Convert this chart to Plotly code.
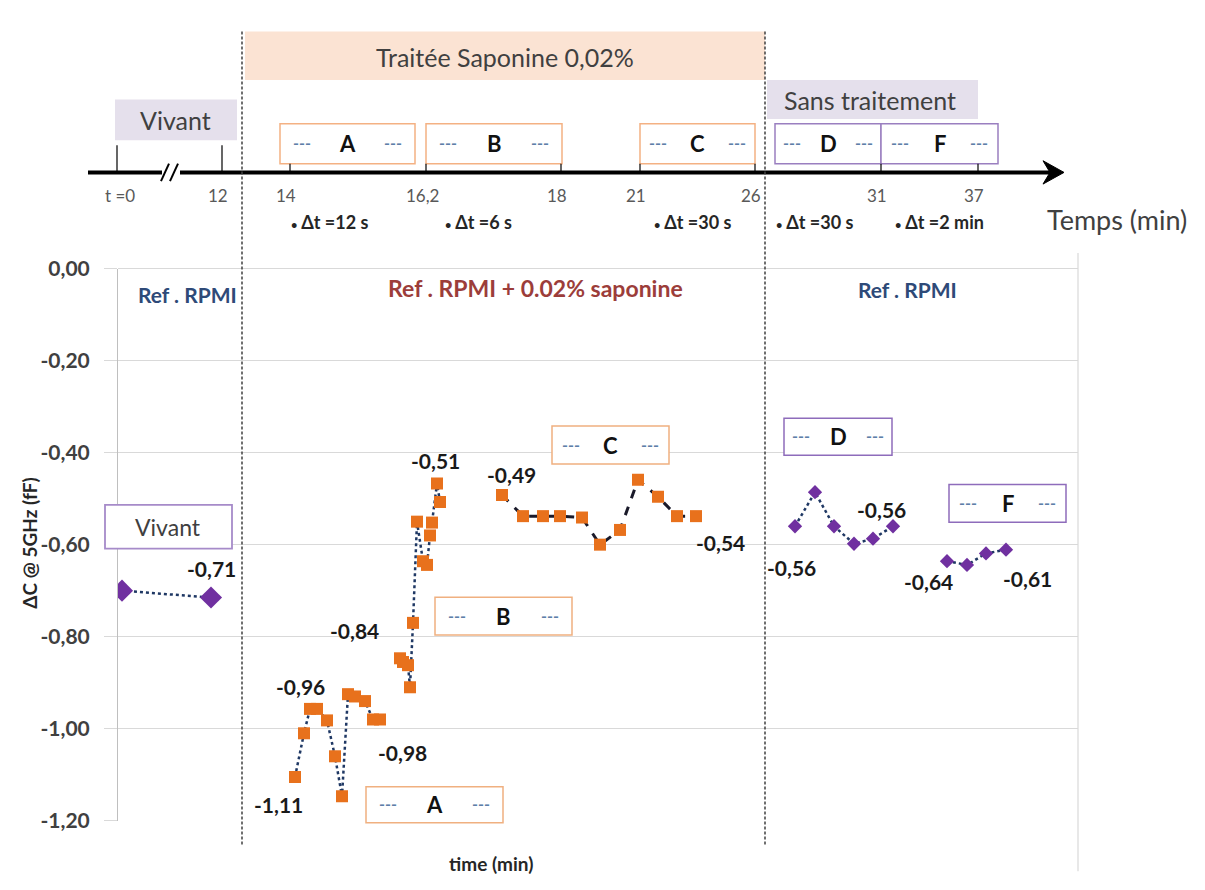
import plotly.graph_objects as go

W, H = 1205, 890

# Data: x = time on the (hidden) chart axis, y = delta C @ 5GHz (fF)
vivant_x = [0.2, 4.65]
vivant_y = [-0.70, -0.715]

a_x = [8.85, 9.3, 9.6, 9.95, 10.45, 10.85, 11.2, 11.5, 11.85, 12.35, 12.75, 13.1]
a_y = [-1.105, -1.01, -0.957, -0.957, -0.982, -1.06, -1.147, -0.925, -0.93, -0.94, -0.98, -0.98]

b_x = [14.1, 14.25, 14.5, 14.6, 14.75, 14.95, 15.25, 15.45, 15.6, 15.7, 15.95, 16.1]
b_y = [-0.847, -0.855, -0.862, -0.91, -0.77, -0.55, -0.636, -0.644, -0.58, -0.552, -0.467, -0.507]

c_x = [19.2, 20.25, 21.25, 22.1, 23.2, 24.1, 25.1, 26.0, 27.0, 27.95, 28.9]
c_y = [-0.492, -0.538, -0.538, -0.538, -0.541, -0.60, -0.568, -0.459, -0.496, -0.538, -0.538]

d_x = [33.85, 34.85, 35.8, 36.8, 37.75, 38.75]
d_y = [-0.56, -0.486, -0.56, -0.598, -0.587, -0.56]

f_x = [41.45, 42.45, 43.4, 44.4]
f_y = [-0.636, -0.644, -0.619, -0.611]

y_ticks = [0, -0.2, -0.4, -0.6, -0.8, -1.0, -1.2]
y_ticktext = ["0,00", "-0,20", "-0,40", "-0,60", "-0,80", "-1,00", "-1,20"]

timeline_labels = ["t =0", "12", "14", "16,2", "18", "21", "26", "31", "37"]
dt_labels = ["Δt =12 s", "Δt =6 s", "Δt =30 s", "Δt =30 s", "Δt =2 min"]

# layout helpers (pixel -> paper)
def px(x):
    return x / W

def py(y):
    return 1 - y / H

FONT = "Lato"
ORANGE = "#E8711C"
PURPLE = "#7030A0"
NAVY = "#1F3864"
DASHC = "#5E7FA8"

fig = go.Figure()

fig.add_trace(go.Scatter(x=vivant_x, y=vivant_y, mode="lines+markers",
                         line=dict(color=NAVY, width=2.5, dash="dot"),
                         marker=dict(symbol="diamond", size=17, color=PURPLE)))
fig.add_trace(go.Scatter(x=a_x, y=a_y, mode="lines+markers",
                         line=dict(color=NAVY, width=2.5, dash="dot"),
                         marker=dict(symbol="square", size=12, color=ORANGE)))
fig.add_trace(go.Scatter(x=b_x, y=b_y, mode="lines+markers",
                         line=dict(color=NAVY, width=2.5, dash="dot"),
                         marker=dict(symbol="square", size=12, color=ORANGE)))
fig.add_trace(go.Scatter(x=c_x, y=c_y, mode="lines+markers",
                         line=dict(color="#1a1a2a", width=3, dash="dash"),
                         marker=dict(symbol="square", size=12, color=ORANGE)))
fig.add_trace(go.Scatter(x=d_x, y=d_y, mode="lines+markers",
                         line=dict(color=NAVY, width=2.5, dash="dot"),
                         marker=dict(symbol="diamond", size=11, color=PURPLE)))
fig.add_trace(go.Scatter(x=f_x, y=f_y, mode="lines+markers",
                         line=dict(color=NAVY, width=2.5, dash="dot"),
                         marker=dict(symbol="diamond", size=11, color=PURPLE)))

# data labels attached to points
labels = [
    (vivant_x, vivant_y, 1, "-0,71", 0, 29),
    (a_x, a_y, 0, "-1,11", -17, -28),
    (a_x, a_y, 2, "-0,96", -10, 22),
    (a_x, a_y, 11, "-0,98", 22, -33),
    (b_x, b_y, 0, "-0,84", -46, 28),
    (b_x, b_y, 10, "-0,51", -2, 23),
    (c_x, c_y, 0, "-0,49", 9, 20),
    (c_x, c_y, 10, "-0,54", 24, -26),
    (d_x, d_y, 0, "-0,56", -4, -41),
    (d_x, d_y, 5, "-0,56", -12, 17),
    (f_x, f_y, 0, "-0,64", -19, -20),
    (f_x, f_y, 3, "-0,61", 21, -29),
]
for xs, ys, i, txt, dx, dy in labels:
    fig.add_annotation(x=xs[i], y=ys[i], text=txt, showarrow=False,
                       xshift=dx, yshift=dy, xanchor="center", yanchor="middle",
                       font=dict(family=FONT, size=21, color="#1a1a1a", weight="bold"))

shapes = []

def rect(x0, y0, x1, y1, fill, line=None, lw=1.5):
    shapes.append(dict(type="rect", xref="paper", yref="paper",
                       x0=px(x0), x1=px(x1), y0=py(y1), y1=py(y0),
                       fillcolor=fill, line=dict(color=line or fill, width=lw if line else 0),
                       layer="below" if not line else "above"))

def seg(x0, y0, x1, y1, color="#000", width=1, dash=None):
    shapes.append(dict(type="line", xref="paper", yref="paper",
                       x0=px(x0), x1=px(x1), y0=py(y0), y1=py(y1),
                       line=dict(color=color, width=width, dash=dash)))

def text(x, y, s, size=16, color="#404040", bold=False, **kw):
    fig.add_annotation(xref="paper", yref="paper", x=px(x), y=py(y), text=s,
                       showarrow=False, xanchor="center", yanchor="middle",
                       font=dict(family=FONT, size=size, color=color,
                                 weight="bold" if bold else "normal"), **kw)

def tag_box(x0, y0, x1, y1, letter, border):
    rect(x0, y0, x1, y1, "white", border, 1.5)
    cy = (y0 + y1) / 2
    w = x1 - x0
    text(x0 + 0.16 * w, cy - 1, "---", size=16, color=DASHC, bold=True)
    text(x0 + 0.84 * w, cy - 1, "---", size=16, color=DASHC, bold=True)
    text(x0 + 0.5 * w, cy, letter, size=22, color="#111", bold=True)

# ---- top timeline ----
rect(245, 18, 765, 68, "#FBE3D3")
text(505, 44, "Traitée Saponine 0,02%", size=25)
rect(115, 88, 237, 130, "#E5E0EC")
text(175, 109, "Vivant", size=25)
rect(767, 68, 978, 108, "#E5E0EC")
text(870, 89, "Sans traitement", size=25)

tag_box(280, 113, 415, 154, "A", "#F4B183")
tag_box(426, 113, 562, 154, "B", "#F4B183")
tag_box(640, 113, 755, 154, "C", "#F4B183")
tag_box(775, 113, 881, 154, "D", "#9A7FC0")
tag_box(881, 113, 998, 154, "F", "#9A7FC0")

# axis with break and arrow
seg(88, 163, 162, 163, width=4)
seg(180, 163, 1052, 163, width=4)
seg(161, 172, 169, 154, width=2)
seg(170, 172, 178, 154, width=2)
shapes.append(dict(type="path", xref="paper", yref="paper",
                   path=f"M {px(1043)} {py(151)} L {px(1064)} {py(163)} L {px(1043)} {py(175)} L {px(1050)} {py(163)} Z",
                   fillcolor="#000", line=dict(color="#000", width=1)))

tick_px = [117, 222, 290, 426, 561, 640, 755, 881, 978]
for lab, xp in zip(timeline_labels, tick_px):
    top = 135 if xp < 240 else 154
    seg(xp, top, xp, 163, width=1.2)
    text(xp + (3 if lab == "t =0" else -4), 187, lab, size=17, color="#595959")

dt_px = [330, 478, 693, 815, 939]
for lab, xp in zip(dt_labels, dt_px):
    text(xp, 214, "<span style='font-size:11px'>•</span> " + lab,
         size=18, color="#262626", bold=True)

text(1117, 211, "Temps (min)", size=27, color="#404040")

# ---- chart decorations ----
for xp in (242, 765):
    seg(xp, 18, xp, 855, color="#404040", width=1.5, dash="3px,2px")
seg(1078, 246, 1078, 882, color="#D9D9D9", width=1.2)

rect(105, 505, 232, 550, "white", "#A68BC9", 1.8)
text(168, 528, "Vivant", size=23, color="#404040")
tag_box(366, 795, 503, 832, "A", "#F0B080")
tag_box(435, 600, 572, 639, "B", "#F0B080")
tag_box(552, 424, 669, 463, "C", "#F0B080")
tag_box(784, 416, 892, 454, "D", "#8E6CBB")
tag_box(949, 484, 1066, 523, "F", "#8E6CBB")

text(187, 289, "Ref . RPMI", size=21, color="#2E4A78", bold=True)
text(535, 282, "Ref . RPMI + 0.02% saponine", size=23, color="#9C3D3A", bold=True)
text(907, 283, "Ref . RPMI", size=21, color="#2E4A78", bold=True)
text(491, 874, "time (min)", size=19, color="#262626", bold=True)
text(30, 545, "ΔC @ 5GHz (fF)", size=19, color="#262626", bold=True, textangle=-90)

fig.update_layout(
    width=W, height=H,
    margin=dict(l=0, r=0, t=0, b=0),
    paper_bgcolor="white", plot_bgcolor="white",
    showlegend=False,
    hovermode=False,
    shapes=shapes,
    xaxis=dict(domain=[px(118), px(1078)], range=[0, 48], showgrid=False,
               zeroline=False, showline=False, showticklabels=False, ticks=""),
    yaxis=dict(domain=[py(830), py(262)], range=[-1.2, 0], tickvals=y_ticks,
               ticktext=y_ticktext, showgrid=True, gridcolor="#D9D9D9", gridwidth=1.2,
               zeroline=True, zerolinecolor="#D9D9D9", zerolinewidth=1.2,
               showline=True, linecolor="#BFBFBF", linewidth=1,
               ticks="outside", ticklen=13, tickcolor="#D9D9D9", tickwidth=1.2,
               ticklabelstandoff=10,
               tickfont=dict(family=FONT, size=21, color="#404040", weight="bold")),
)

fig.write_html("out.html", config={"displayModeBar": False},
               post_script="document.body.style.margin='0';")
